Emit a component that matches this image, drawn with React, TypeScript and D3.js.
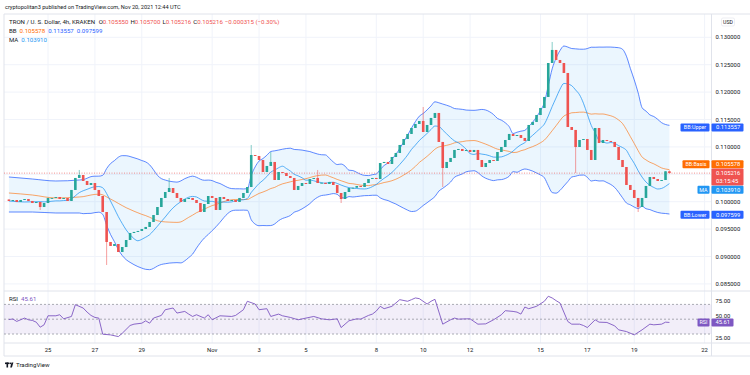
import React from 'react';
import * as d3 from 'd3';

// ---------- DATA ----------
const START = Date.UTC(2021, 9, 23, 8); // first 4h candle (UTC)
const STEP = 4 * 3600 * 1000;
const firstOpen = 0.1004;
const closes = [
  0.10013, 0.10031, 0.09995, 0.10031, 0.10049, 0.10013, 0.09976, 0.09995, 0.09903, 0.09976,
  0.10068, 0.10068, 0.10086, 0.10049, 0.10068, 0.10013, 0.10214, 0.10433, 0.10487, 0.10378,
  0.10305, 0.10341, 0.10214, 0.10104, 0.09812, 0.09265, 0.09192, 0.09228, 0.09082, 0.09173,
  0.09301, 0.09429, 0.09448, 0.09466, 0.09502, 0.09539, 0.0963, 0.09757, 0.09903, 0.10068,
  0.10177, 0.1025, 0.10159, 0.10068, 0.09995, 0.10049, 0.10068, 0.10031, 0.09976, 0.09812,
  0.09958, 0.10104, 0.10068, 0.09849, 0.10086, 0.10049, 0.10013, 0.10031, 0.09995, 0.10068,
  0.10159, 0.10268, 0.10852, 0.10834, 0.10761, 0.10542, 0.10652, 0.10725, 0.10396, 0.10542,
  0.10524, 0.10469, 0.10433, 0.10214, 0.10287, 0.10341, 0.10323, 0.10414, 0.10433, 0.10341,
  0.10345, 0.10323, 0.1036, 0.10305, 0.10159, 0.10049, 0.10177, 0.1025, 0.10255, 0.10287,
  0.10268, 0.10341, 0.10414, 0.10433, 0.10414, 0.10706, 0.10725, 0.10688, 0.10816, 0.10889,
  0.11035, 0.11144, 0.11236, 0.11345, 0.11418, 0.11473, 0.11272, 0.114, 0.11528, 0.11619,
  0.1109, 0.10615, 0.10725, 0.10798, 0.10944, 0.10962, 0.10925, 0.10944, 0.10907, 0.10944,
  0.10761, 0.10633, 0.10706, 0.10761, 0.10743, 0.10907, 0.10998, 0.11126, 0.11236, 0.11199,
  0.11217, 0.11163, 0.11108, 0.114, 0.11455, 0.11582, 0.1171, 0.11911, 0.12531, 0.12769,
  0.12586, 0.12531, 0.12349, 0.11363, 0.11309, 0.10998, 0.11126, 0.11144, 0.10944, 0.10761,
  0.11345, 0.11071, 0.11126, 0.11108, 0.1109, 0.10998, 0.10761, 0.10633, 0.10305, 0.10214,
  0.10068, 0.09903, 0.10068, 0.10287, 0.10451, 0.10414, 0.10378, 0.10396, 0.10555, 0.105216,
];
const highIdx = [18, 41, 62, 67, 79, 106, 139, 169];
const highVal = [0.10579, 0.10433, 0.11035, 0.10907, 0.10579, 0.11728, 0.12915, 0.1057];
const lowIdx = [8, 25, 85, 111, 145, 161];
const lowVal = [0.09849, 0.08845, 0.09976, 0.10268, 0.10524, 0.09812];

// indicator values before the 20-candle window is available
const bbLeadIdx = [0, 6, 12, 18];
const bbLeadUpper = [0.10451, 0.10414, 0.10378, 0.10396];
const bbLeadBasis = [0.10159, 0.10122, 0.10068, 0.10086];
const bbLeadLower = [0.09812, 0.09812, 0.09794, 0.09794];
const maLeadIdx = [0, 4];
const maLeadVal = [0.10013, 0.09995];

const rsiIdx = [0, 1, 2, 4, 5, 6, 7, 8, 9, 10, 12, 13, 14, 16, 17, 19, 20, 21, 22, 23, 24, 26, 28, 29, 31, 32, 34, 35, 36, 37, 39, 40, 42, 43, 45, 46, 47, 48, 50, 51, 52, 54, 57, 58, 60, 61, 63, 64, 66, 67, 69, 70, 72, 74, 76, 78, 80, 82, 84, 85, 86, 87, 89, 90, 92, 93, 94, 95, 96, 98, 100, 102, 103, 104, 105, 107, 108, 109, 111, 113, 114, 115, 117, 118, 120, 122, 124, 126, 127, 129, 130, 131, 132, 133, 135, 137, 138, 139, 140, 141, 143, 144, 146, 147, 148, 150, 151, 153, 155, 156, 158, 160, 162, 164, 165, 167, 168, 169];
const rsiVal = [49.5, 50.3, 47.0, 51.5, 49.2, 48.3, 46.0, 39.2, 42.4, 54.6, 54.6, 56.0, 50.5, 53.7, 69.6, 65.1, 59.6, 55.1, 52.4, 51.5, 29.7, 28.8, 26.5, 31.0, 41.5, 43.3, 44.6, 47.8, 44.6, 51.5, 55.1, 62.8, 65.1, 58.3, 60.5, 56.9, 53.7, 56.0, 51.5, 56.0, 49.2, 54.6, 53.7, 55.1, 62.8, 74.2, 70.5, 62.8, 64.2, 53.7, 56.9, 54.6, 52.4, 49.2, 51.5, 53.7, 50.5, 49.2, 50.5, 38.7, 43.3, 47.9, 50.5, 50.1, 55.1, 56.9, 61.0, 67.4, 64.2, 67.4, 76.4, 74.2, 76.4, 78.7, 77.8, 70.5, 74.2, 76.9, 43.3, 49.2, 51.5, 50.1, 50.5, 50.5, 43.3, 43.7, 49.2, 56.0, 61.5, 60.5, 59.6, 56.9, 66.4, 64.2, 67.4, 74.2, 81.0, 78.7, 75.1, 71.9, 46.9, 43.3, 43.3, 41.5, 38.7, 49.2, 46.0, 45.6, 41.0, 35.6, 33.3, 28.8, 35.6, 43.3, 42.4, 43.3, 46.0, 45.61];

const priceTicks = [0.085, 0.09, 0.095, 0.1, 0.105, 0.11, 0.115, 0.12, 0.125, 0.13];
const rsiTicks = [25, 50, 75];
const rsiLevels = [70, 50, 30];
const dateTicks = [
  Date.UTC(2021, 9, 25), Date.UTC(2021, 9, 27), Date.UTC(2021, 9, 29), Date.UTC(2021, 10, 1),
  Date.UTC(2021, 10, 3), Date.UTC(2021, 10, 5), Date.UTC(2021, 10, 8), Date.UTC(2021, 10, 10),
  Date.UTC(2021, 10, 12), Date.UTC(2021, 10, 15), Date.UTC(2021, 10, 17), Date.UTC(2021, 10, 19),
  Date.UTC(2021, 10, 22),
];
const dateLabels = ['25', '27', '29', 'Nov', '3', '5', '8', '10', '12', '15', '17', '19', '22'];

const ohlc = { o: '0.105550', h: '0.105700', l: '0.105216', c: '0.105216', chg: '−0.000315 (−0.30%)' };
const bbLast = { basis: 0.105578, upper: 0.113557, lower: 0.097599 };
const maLast = 0.10391;
const lastPrice = 0.105216;
const rsiLast = 45.61;
const countdown = '03:15:45';

// ---------- STYLE ----------
const FONT = "Roboto, 'Liberation Sans', Arial, sans-serif";
const UP = '#26a69a';
const DOWN = '#ef5350';
const BAND = '#2962ff';
const BASIS = '#ff6d00';
const MA = '#2196f3';
const RSI_C = '#7e57c2';
const GRID = '#f0f3fa';
const BORDER = '#e0e3eb';
const TXT = '#131722';

const L = 4, AX = 711.5, TOP = 14, PB = 291, RB = 343, TB = 356;

export default function App() {
  const x = d3.scaleUtc()
    .domain([new Date(Date.UTC(2021, 9, 25)), new Date(Date.UTC(2021, 10, 22))])
    .range([48, 704.6]);
  const y = d3.scaleLinear().domain([0.085, 0.13]).range([283.9, 37.3]);
  const yR = d3.scaleLinear().domain([25, 75]).range([337.7, 300.7]);
  const t = (i: number) => new Date(START + i * STEP);
  const xi = (i: number) => x(t(i));

  const candles = closes.map((c, i) => {
    const o = i === 0 ? firstOpen : closes[i - 1];
    let h = Math.max(o, c);
    let l = Math.min(o, c);
    const hi = highIdx.indexOf(i);
    if (hi >= 0) h = Math.max(h, highVal[hi]);
    const lo = lowIdx.indexOf(i);
    if (lo >= 0) l = Math.min(l, lowVal[lo]);
    return { i, o, c, h, l };
  });

  const bb: { i: number; u: number; b: number; l: number }[] = bbLeadIdx.map((li, k) => ({
    i: li, u: bbLeadUpper[k], b: bbLeadBasis[k], l: bbLeadLower[k],
  }));
  for (let i = 19; i < closes.length; i++) {
    const w = closes.slice(i - 19, i + 1);
    const m = d3.mean(w) as number;
    const sd = Math.sqrt(d3.mean(w.map((v) => (v - m) ** 2)) as number);
    bb.push({ i, u: m + 2 * sd, b: m, l: m - 2 * sd });
  }
  const ma: { i: number; v: number }[] = maLeadIdx.map((li, k) => ({ i: li, v: maLeadVal[k] }));
  for (let i = 8; i < closes.length; i++) {
    ma.push({ i, v: d3.mean(closes.slice(i - 8, i + 1)) as number });
  }
  const rsi = rsiIdx.map((ri, k) => ({ i: ri, v: rsiVal[k] }));

  const curve = d3.curveMonotoneX;
  const lineU = d3.line<any>().x((d) => xi(d.i)).y((d) => y(d.u)).curve(curve);
  const lineB = d3.line<any>().x((d) => xi(d.i)).y((d) => y(d.b)).curve(curve);
  const lineL = d3.line<any>().x((d) => xi(d.i)).y((d) => y(d.l)).curve(curve);
  const areaBB = d3.area<any>().x((d) => xi(d.i)).y0((d) => y(d.l)).y1((d) => y(d.u)).curve(curve);
  const lineMA = d3.line<any>().x((d) => xi(d.i)).y((d) => y(d.v)).curve(curve);
  const lineRSI = d3.line<any>().x((d) => xi(d.i)).y((d) => yR(d.v));

  const bw = 2.6;
  const fmt = d3.format('.6f');

  // tag positions
  const priceY = y(lastPrice);
  const priceTop = priceY - 4.6;
  const priceH = 17;
  const basisC = Math.min(y(bbLast.basis), priceTop - 4.2);
  const maC = Math.max(y(maLast), priceTop + priceH + 4.2);
  const tagH = 8;
  const rsiTagY = yR(rsiLast);

  const Tag = ({ cy, fill, label, value, lw }: any) => (
    <g>
      {label && (
        <g>
          <rect x={AX - 2 - lw} y={cy - tagH / 2} width={lw} height={tagH} rx={1} fill={fill} />
          <text x={AX - 2 - lw / 2} y={cy} dy="0.35em" textAnchor="middle" fontSize={5.4} fill="#fff">{label}</text>
        </g>
      )}
      <rect x={AX} y={cy - tagH / 2} width={32} height={tagH} rx={1} fill={fill} />
      <text x={AX + 4.5} y={cy} dy="0.35em" fontSize={5.8} fill="#fff">{value}</text>
    </g>
  );

  return (
    <svg width={750} height={375} style={{ position: 'absolute', left: 0, top: 0, background: '#fff' }} fontFamily={FONT}>
      <defs>
        <clipPath id="pricePane"><rect x={L} y={TOP} width={AX - L} height={PB - TOP} /></clipPath>
        <clipPath id="rsiPane"><rect x={L} y={PB} width={AX - L} height={RB - PB} /></clipPath>
      </defs>
      <rect x={0} y={0} width={750} height={375} fill="#fff" />

      {/* header */}
      <text x={5} y={9} fontSize={5.6} fill={TXT}>cryptopolitan3 published on TradingView.com, Nov 20, 2021 12:44 UTC</text>

      {/* grid */}
      {priceTicks.map((p) => (
        <line key={'gp' + p} x1={L} x2={AX} y1={y(p)} y2={y(p)} stroke={GRID} strokeWidth={1} />
      ))}
      {dateTicks.map((d) => (
        <line key={'gd' + d} x1={x(new Date(d))} x2={x(new Date(d))} y1={TOP} y2={RB} stroke={GRID} strokeWidth={1} />
      ))}

      {/* frame */}
      <line x1={L} x2={750} y1={TOP} y2={TOP} stroke={BORDER} />
      <line x1={L} x2={L} y1={TOP} y2={TB} stroke={BORDER} />
      <line x1={AX} x2={AX} y1={TOP} y2={TB} stroke={BORDER} />
      <line x1={L} x2={750} y1={PB} y2={PB} stroke={BORDER} />
      <line x1={L} x2={750} y1={RB} y2={RB} stroke={BORDER} />
      <line x1={L} x2={750} y1={TB} y2={TB} stroke={BORDER} />

      {/* price pane */}
      <g clipPath="url(#pricePane)">
        <path d={areaBB(bb) as string} fill="rgba(33,150,243,0.09)" />
        <path d={lineU(bb) as string} fill="none" stroke={BAND} strokeWidth={1} strokeOpacity={0.75} />
        <path d={lineL(bb) as string} fill="none" stroke={BAND} strokeWidth={1} strokeOpacity={0.75} />
        <path d={lineB(bb) as string} fill="none" stroke={BASIS} strokeWidth={1} strokeOpacity={0.6} />
        <path d={lineMA(ma) as string} fill="none" stroke={MA} strokeWidth={1} strokeOpacity={0.75} />
        <line x1={L} x2={AX} y1={priceY} y2={priceY} stroke={DOWN} strokeWidth={0.8} strokeDasharray="1 1.5" strokeOpacity={0.8} />
        {candles.map((d) => {
          const col = d.c >= d.o ? UP : DOWN;
          const cx = xi(d.i);
          const top = y(Math.max(d.o, d.c));
          const bot = y(Math.min(d.o, d.c));
          return (
            <g key={d.i}>
              <line x1={cx} x2={cx} y1={y(d.h)} y2={y(d.l)} stroke={col} strokeWidth={0.7} strokeOpacity={0.8} />
              <rect x={cx - bw / 2} y={top} width={bw} height={Math.max(0.9, bot - top)} fill={col} />
            </g>
          );
        })}
      </g>

      {/* legend */}
      <text x={9} y={23.8} fontSize={6.1} fill={TXT}>
        <tspan>TRON / U. S. Dollar, 4h, KRAKEN </tspan>
        <tspan dx={2}>O</tspan><tspan fill={DOWN}>{ohlc.o}</tspan>
        <tspan dx={2}>H</tspan><tspan fill={DOWN}>{ohlc.h}</tspan>
        <tspan dx={2}>L</tspan><tspan fill={DOWN}>{ohlc.l}</tspan>
        <tspan dx={2}>C</tspan><tspan fill={DOWN}>{ohlc.c}</tspan>
        <tspan dx={2} fill={DOWN}>{ohlc.chg}</tspan>
      </text>
      <text x={9} y={33} fontSize={6.1} fill={TXT}>
        <tspan>BB</tspan>
        <tspan dx={3} fill={BASIS}>{fmt(bbLast.basis)}</tspan>
        <tspan dx={3} fill={BAND}>{fmt(bbLast.upper)}</tspan>
        <tspan dx={3} fill={BAND}>{fmt(bbLast.lower)}</tspan>
      </text>
      <text x={9} y={41.5} fontSize={6.1} fill={TXT}>
        <tspan>MA</tspan>
        <tspan dx={3} fill={MA}>{fmt(maLast)}</tspan>
      </text>

      {/* price axis */}
      <rect x={721.5} y={18} width={13} height={8} rx={1.5} fill="#fff" stroke={BORDER} strokeWidth={0.6} />
      <text x={728} y={22} dy="0.35em" textAnchor="middle" fontSize={5.2} fill={TXT}>USD</text>
      {priceTicks.map((p) => (
        <text key={'pl' + p} x={715.5} y={y(p)} dy="0.35em" fontSize={5.9} fill={TXT}>{fmt(p)}</text>
      ))}

      {/* tags */}
      <Tag cy={y(bbLast.upper)} fill={BAND} label="BB:Upper" value={fmt(bbLast.upper)} lw={29} />
      <Tag cy={basisC} fill={BASIS} label="BB:Basis" value={fmt(bbLast.basis)} lw={27} />
      <g>
        <rect x={AX} y={priceTop} width={32} height={priceH} rx={1} fill={DOWN} />
        <text x={AX + 4.5} y={priceTop + 4.6} dy="0.35em" fontSize={5.8} fill="#fff">{fmt(lastPrice)}</text>
        <text x={AX + 4.5} y={priceTop + 12.2} dy="0.35em" fontSize={5.8} fill="#fff">{countdown}</text>
      </g>
      <Tag cy={maC} fill={MA} label="MA" value={fmt(maLast)} lw={12} />
      <Tag cy={y(bbLast.lower)} fill={BAND} label="BB:Lower" value={fmt(bbLast.lower)} lw={29} />

      {/* RSI pane */}
      <g clipPath="url(#rsiPane)">
        <rect x={L} y={yR(70)} width={AX - L} height={yR(30) - yR(70)} fill="rgba(126,87,194,0.1)" />
        {rsiLevels.map((lv) => (
          <line key={'rl' + lv} x1={L} x2={AX} y1={yR(lv)} y2={yR(lv)} stroke="#9598a1" strokeWidth={0.8} strokeDasharray="2 2" />
        ))}
        <path d={lineRSI(rsi) as string} fill="none" stroke={RSI_C} strokeWidth={0.9} />
      </g>
      <text x={9} y={299} dy="0.35em" fontSize={6.1} fill={TXT}>
        <tspan>RSI</tspan>
        <tspan dx={3} fill={RSI_C}>{rsiLast.toFixed(2)}</tspan>
      </text>
      {rsiTicks.map((v) => {
        // the label hidden behind the value tag is lifted just above it
        const ty = Math.abs(yR(v) - rsiTagY) < 8 ? rsiTagY - tagH / 2 - 2.6 : yR(v);
        return (
          <text key={'rt' + v} x={715.5} y={ty} dy="0.35em" fontSize={5.9} fill={TXT}>{v.toFixed(2)}</text>
        );
      })}
      <g>
        <rect x={AX - 2 - 12} y={rsiTagY - tagH / 2} width={12} height={tagH} rx={1} fill={RSI_C} />
        <text x={AX - 8} y={rsiTagY} dy="0.35em" textAnchor="middle" fontSize={5.4} fill="#fff">RSI</text>
        <rect x={AX} y={rsiTagY - tagH / 2} width={22} height={tagH} rx={1} fill={RSI_C} />
        <text x={AX + 4} y={rsiTagY} dy="0.35em" fontSize={5.8} fill="#fff">{rsiLast.toFixed(2)}</text>
      </g>

      {/* time axis */}
      {dateTicks.map((d, k) => (
        <text key={'dl' + d} x={x(new Date(d))} y={349.6} dy="0.35em" textAnchor="middle" fontSize={5.9} fill={TXT}>{dateLabels[k]}</text>
      ))}

      {/* logo */}
      <g fill={TXT}>
        <rect x={5} y={362.5} width={4.2} height={1.6} />
        <rect x={6.5} y={362.5} width={1.6} height={5} />
        <circle cx={10.3} cy={363.3} r={0.9} />
        <polygon points="11.5,362.5 13.4,362.5 11.9,367.5 10.2,367.5" />
      </g>
      <text x={16} y={365} dy="0.35em" fontSize={6.1} fill={TXT}>TradingView</text>
    </svg>
  );
}
